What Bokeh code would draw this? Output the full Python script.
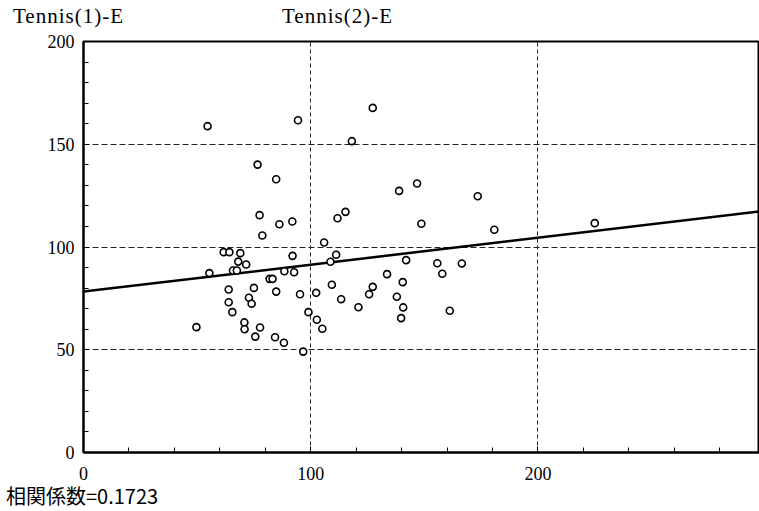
import numpy as np
from bokeh.plotting import figure
from bokeh.layouts import column
from bokeh.models import FixedTicker, Range1d, ColumnDataSource, Div
from bokeh.embed import file_html
from bokeh.resources import INLINE

# ---- data ----
tennis1 = [54.6, 94.4, 127.3, 118.1, 76.6, 84.8, 77.5, 86.2, 91.9, 78.7,
           61.7, 64.2, 69.0, 68.1, 71.6, 55.4, 65.8, 67.5, 88.4, 92.0,
           92.7, 81.9, 83.2, 63.9, 75.0, 84.8, 95.3, 63.9, 72.8, 74.0,
           65.5, 49.7, 70.8, 70.9, 77.7, 75.6, 84.3, 88.2, 105.9, 111.2,
           108.7, 142.0, 155.7, 166.5, 157.9, 133.6, 140.5, 109.3, 127.3, 102.4,
           125.7, 113.4, 137.9, 121.0, 140.7, 161.2, 99.0, 102.7, 105.1, 139.8,
           96.7, 180.8, 138.9, 146.8, 173.5, 148.7, 115.3, 111.8, 225.0]
tennis2 = [158.8, 161.7, 167.7, 151.5, 140.1, 133.0, 115.5, 111.1, 112.4, 105.6,
           97.5, 97.5, 97.0, 92.9, 91.5, 87.3, 88.6, 88.6, 88.2, 95.7,
           87.7, 84.5, 84.5, 79.3, 80.1, 78.3, 77.0, 73.1, 75.3, 72.4,
           68.3, 61.0, 63.3, 60.0, 60.8, 56.4, 56.1, 53.4, 102.2, 96.2,
           92.8, 93.6, 92.1, 92.0, 87.0, 86.8, 82.9, 81.6, 80.6, 77.7,
           77.0, 74.6, 75.8, 70.7, 70.6, 69.0, 68.3, 64.6, 60.2, 65.4,
           49.1, 108.4, 127.3, 130.9, 124.7, 111.3, 117.1, 114.0, 111.6]
reg_intercept = 78.3
reg_slope = 0.131
x_major = [0, 100, 200]
x_minor = [20, 40, 60, 80, 120, 140, 160, 180, 220, 240, 260, 280]
y_major = [0, 50, 100, 150, 200]
y_minor = [10, 20, 30, 40, 60, 70, 80, 90, 110, 120, 130, 140, 160, 170, 180, 190]
grid_x = [100, 200]
grid_y = [50, 100, 150]
titles = ["Tennis(1)-E", "Tennis(2)-E"]
corr_text = "相関係数=0.1723"

X_START, X_END = 0, 297.5
Y_START, Y_END = 0, 200
W = 759
HEAD_H, FOOT_H = 29, 28


def span(txt, left, top, font, size, spacing=0):
    return (f'<span style="position:absolute;left:{left}px;top:{top}px;'
            f'font-family:{font};font-size:{size}px;line-height:{size}px;'
            f'letter-spacing:{spacing}px;color:black;white-space:nowrap;">{txt}</span>')


head_html = (f'<div style="position:relative;width:{W}px;height:{HEAD_H}px;background:white;">'
             + span(titles[0], 13, 6, "'Liberation Serif', serif", 21, 1)
             + span(titles[1], 282, 6, "'Liberation Serif', serif", 21, 1)
             + '</div>')
foot_html = (f'<div style="position:relative;width:{W}px;height:{FOOT_H}px;background:white;">'
             + span(corr_text, 6, 3, "'Noto Sans CJK JP', sans-serif", 20)
             + '</div>')
header = Div(text=head_html, width=W, height=HEAD_H, styles={"margin": "0", "padding": "0"})
footer = Div(text=foot_html, width=W, height=FOOT_H, styles={"margin": "0", "padding": "0"})

# ---- main scatter ----
p = figure(width=W, height=454, x_range=Range1d(X_START, X_END),
           y_range=Range1d(Y_START, Y_END), output_backend="svg",
           toolbar_location=None, min_border_left=83, min_border_right=0,
           min_border_top=12, min_border_bottom=31)
p.outline_line_color = "black"
p.outline_line_width = 2
p.background_fill_color = "white"
p.border_fill_color = "white"

serif = "Liberation Serif"
for ax, major, minor in ((p.xaxis[0], x_major, x_minor), (p.yaxis[0], y_major, y_minor)):
    ax.ticker = FixedTicker(ticks=major, minor_ticks=minor)
    ax.axis_line_width = 2
    ax.axis_line_color = "black"
    ax.major_tick_in = 6
    ax.major_tick_out = 0
    ax.minor_tick_in = 5
    ax.minor_tick_out = 0
    ax.major_tick_line_color = "black"
    ax.minor_tick_line_color = "black"
    ax.major_label_text_font = serif
    ax.major_label_text_font_size = "18px"
    ax.major_label_text_color = "black"
p.xaxis[0].major_label_standoff = 14
p.yaxis[0].major_label_standoff = 9

p.xgrid.ticker = FixedTicker(ticks=grid_x)
p.ygrid.ticker = FixedTicker(ticks=grid_y)
p.xgrid.grid_line_color = "#222222"
p.ygrid.grid_line_color = "#222222"
p.xgrid.grid_line_dash = "4 3"
p.ygrid.grid_line_dash = "6 3"
p.xgrid.grid_line_width = 1
p.ygrid.grid_line_width = 1

lx = np.array([X_START, X_END], dtype=float)
ly = reg_intercept + reg_slope * lx
p.line(lx, ly, line_color="black", line_width=2.5)

src = ColumnDataSource(dict(x=tennis1, y=tennis2))
p.scatter("x", "y", source=src, marker="circle", size=7, fill_color="white",
          line_color="black", line_width=1.6)

layout = column(header, p, footer, spacing=0)
open("out.html", "w").write(file_html(layout, INLINE))
